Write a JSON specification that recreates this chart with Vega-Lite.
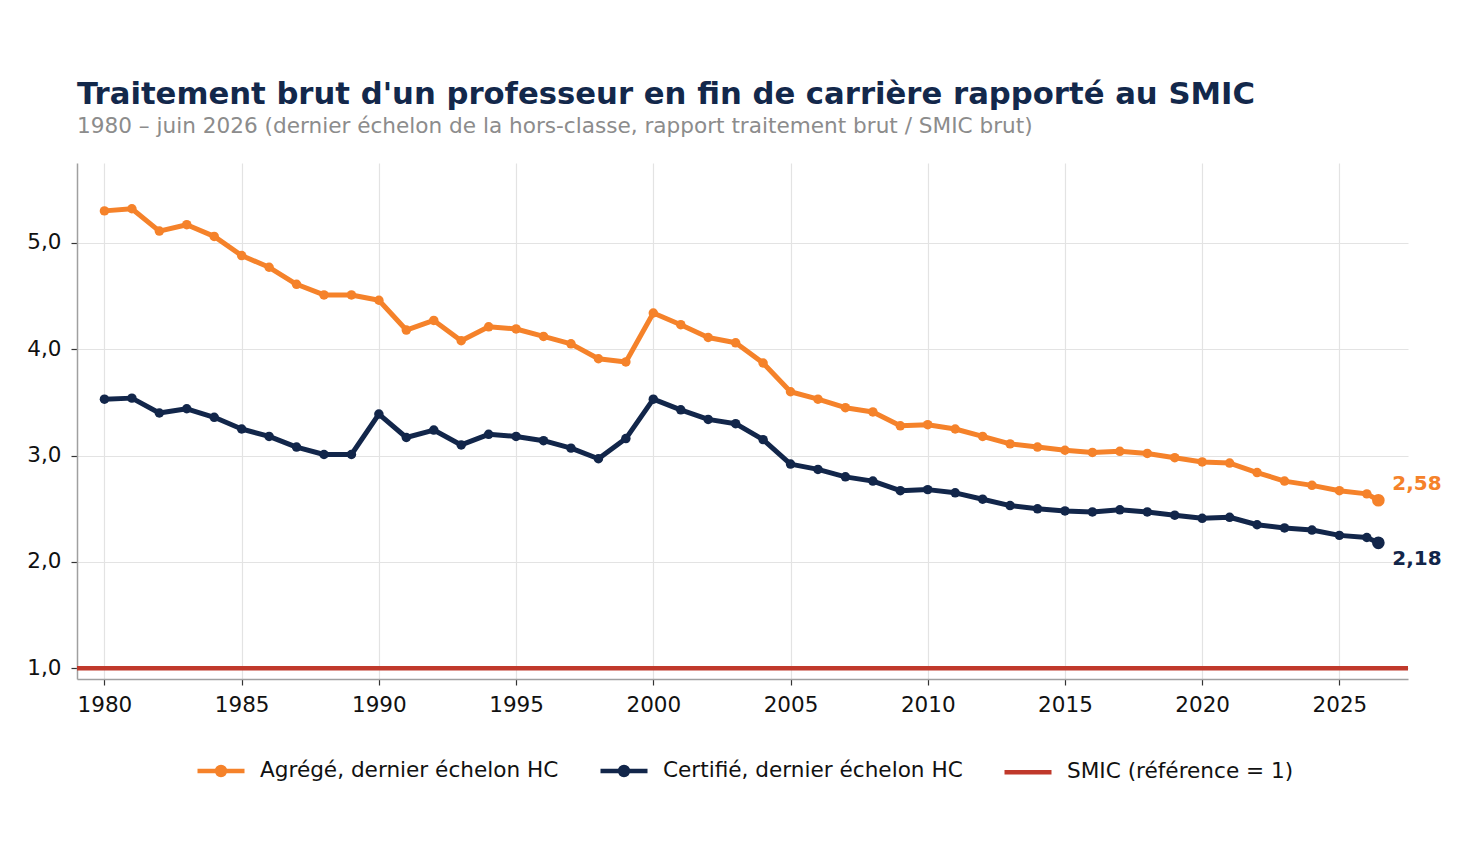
{
  "$schema": "https://vega.github.io/schema/vega-lite/v6.json",
  "width": 1331,
  "height": 516,
  "autosize": "none",
  "padding": {"left": 77, "top": 163, "right": 64, "bottom": 171},
  "background": "white",
  "title": {
    "text": "Traitement brut d'un professeur en fin de carrière rapporté au SMIC",
    "subtitle": "1980 – juin 2026 (dernier échelon de la hors-classe, rapport traitement brut / SMIC brut)",
    "anchor": "start",
    "frame": "group",
    "font": "DejaVu Sans",
    "fontSize": 30.7,
    "fontWeight": "bold",
    "color": "#13284b",
    "subtitleFont": "DejaVu Sans",
    "subtitleFontSize": 21.6,
    "subtitleColor": "#8c8c8c",
    "subtitlePadding": 6,
    "offset": 24
  },
  "datasets": {
    "series": [
      {"annee": 1980, "serie": "Agrégé, dernier échelon HC", "valeur": 5.30},
      {"annee": 1981, "serie": "Agrégé, dernier échelon HC", "valeur": 5.32},
      {"annee": 1982, "serie": "Agrégé, dernier échelon HC", "valeur": 5.11},
      {"annee": 1983, "serie": "Agrégé, dernier échelon HC", "valeur": 5.17},
      {"annee": 1984, "serie": "Agrégé, dernier échelon HC", "valeur": 5.06},
      {"annee": 1985, "serie": "Agrégé, dernier échelon HC", "valeur": 4.88},
      {"annee": 1986, "serie": "Agrégé, dernier échelon HC", "valeur": 4.77},
      {"annee": 1987, "serie": "Agrégé, dernier échelon HC", "valeur": 4.61},
      {"annee": 1988, "serie": "Agrégé, dernier échelon HC", "valeur": 4.51},
      {"annee": 1989, "serie": "Agrégé, dernier échelon HC", "valeur": 4.51},
      {"annee": 1990, "serie": "Agrégé, dernier échelon HC", "valeur": 4.46},
      {"annee": 1991, "serie": "Agrégé, dernier échelon HC", "valeur": 4.18},
      {"annee": 1992, "serie": "Agrégé, dernier échelon HC", "valeur": 4.27},
      {"annee": 1993, "serie": "Agrégé, dernier échelon HC", "valeur": 4.08},
      {"annee": 1994, "serie": "Agrégé, dernier échelon HC", "valeur": 4.21},
      {"annee": 1995, "serie": "Agrégé, dernier échelon HC", "valeur": 4.19},
      {"annee": 1996, "serie": "Agrégé, dernier échelon HC", "valeur": 4.12},
      {"annee": 1997, "serie": "Agrégé, dernier échelon HC", "valeur": 4.05},
      {"annee": 1998, "serie": "Agrégé, dernier échelon HC", "valeur": 3.91},
      {"annee": 1999, "serie": "Agrégé, dernier échelon HC", "valeur": 3.88},
      {"annee": 2000, "serie": "Agrégé, dernier échelon HC", "valeur": 4.34},
      {"annee": 2001, "serie": "Agrégé, dernier échelon HC", "valeur": 4.23},
      {"annee": 2002, "serie": "Agrégé, dernier échelon HC", "valeur": 4.11},
      {"annee": 2003, "serie": "Agrégé, dernier échelon HC", "valeur": 4.06},
      {"annee": 2004, "serie": "Agrégé, dernier échelon HC", "valeur": 3.87},
      {"annee": 2005, "serie": "Agrégé, dernier échelon HC", "valeur": 3.60},
      {"annee": 2006, "serie": "Agrégé, dernier échelon HC", "valeur": 3.53},
      {"annee": 2007, "serie": "Agrégé, dernier échelon HC", "valeur": 3.45},
      {"annee": 2008, "serie": "Agrégé, dernier échelon HC", "valeur": 3.41},
      {"annee": 2009, "serie": "Agrégé, dernier échelon HC", "valeur": 3.28},
      {"annee": 2010, "serie": "Agrégé, dernier échelon HC", "valeur": 3.29},
      {"annee": 2011, "serie": "Agrégé, dernier échelon HC", "valeur": 3.25},
      {"annee": 2012, "serie": "Agrégé, dernier échelon HC", "valeur": 3.18},
      {"annee": 2013, "serie": "Agrégé, dernier échelon HC", "valeur": 3.11},
      {"annee": 2014, "serie": "Agrégé, dernier échelon HC", "valeur": 3.08},
      {"annee": 2015, "serie": "Agrégé, dernier échelon HC", "valeur": 3.05},
      {"annee": 2016, "serie": "Agrégé, dernier échelon HC", "valeur": 3.03},
      {"annee": 2017, "serie": "Agrégé, dernier échelon HC", "valeur": 3.04},
      {"annee": 2018, "serie": "Agrégé, dernier échelon HC", "valeur": 3.02},
      {"annee": 2019, "serie": "Agrégé, dernier échelon HC", "valeur": 2.98},
      {"annee": 2020, "serie": "Agrégé, dernier échelon HC", "valeur": 2.94},
      {"annee": 2021, "serie": "Agrégé, dernier échelon HC", "valeur": 2.93},
      {"annee": 2022, "serie": "Agrégé, dernier échelon HC", "valeur": 2.84},
      {"annee": 2023, "serie": "Agrégé, dernier échelon HC", "valeur": 2.76},
      {"annee": 2024, "serie": "Agrégé, dernier échelon HC", "valeur": 2.72},
      {"annee": 2025, "serie": "Agrégé, dernier échelon HC", "valeur": 2.67},
      {"annee": 2026, "serie": "Agrégé, dernier échelon HC", "valeur": 2.64},
      {"annee": 2026.42, "serie": "Agrégé, dernier échelon HC", "valeur": 2.58},
      {"annee": 1980, "serie": "Certifié, dernier échelon HC", "valeur": 3.53},
      {"annee": 1981, "serie": "Certifié, dernier échelon HC", "valeur": 3.54},
      {"annee": 1982, "serie": "Certifié, dernier échelon HC", "valeur": 3.40},
      {"annee": 1983, "serie": "Certifié, dernier échelon HC", "valeur": 3.44},
      {"annee": 1984, "serie": "Certifié, dernier échelon HC", "valeur": 3.36},
      {"annee": 1985, "serie": "Certifié, dernier échelon HC", "valeur": 3.25},
      {"annee": 1986, "serie": "Certifié, dernier échelon HC", "valeur": 3.18},
      {"annee": 1987, "serie": "Certifié, dernier échelon HC", "valeur": 3.08},
      {"annee": 1988, "serie": "Certifié, dernier échelon HC", "valeur": 3.01},
      {"annee": 1989, "serie": "Certifié, dernier échelon HC", "valeur": 3.01},
      {"annee": 1990, "serie": "Certifié, dernier échelon HC", "valeur": 3.39},
      {"annee": 1991, "serie": "Certifié, dernier échelon HC", "valeur": 3.17},
      {"annee": 1992, "serie": "Certifié, dernier échelon HC", "valeur": 3.24},
      {"annee": 1993, "serie": "Certifié, dernier échelon HC", "valeur": 3.10},
      {"annee": 1994, "serie": "Certifié, dernier échelon HC", "valeur": 3.20},
      {"annee": 1995, "serie": "Certifié, dernier échelon HC", "valeur": 3.18},
      {"annee": 1996, "serie": "Certifié, dernier échelon HC", "valeur": 3.14},
      {"annee": 1997, "serie": "Certifié, dernier échelon HC", "valeur": 3.07},
      {"annee": 1998, "serie": "Certifié, dernier échelon HC", "valeur": 2.97},
      {"annee": 1999, "serie": "Certifié, dernier échelon HC", "valeur": 3.16},
      {"annee": 2000, "serie": "Certifié, dernier échelon HC", "valeur": 3.53},
      {"annee": 2001, "serie": "Certifié, dernier échelon HC", "valeur": 3.43},
      {"annee": 2002, "serie": "Certifié, dernier échelon HC", "valeur": 3.34},
      {"annee": 2003, "serie": "Certifié, dernier échelon HC", "valeur": 3.30},
      {"annee": 2004, "serie": "Certifié, dernier échelon HC", "valeur": 3.15},
      {"annee": 2005, "serie": "Certifié, dernier échelon HC", "valeur": 2.92},
      {"annee": 2006, "serie": "Certifié, dernier échelon HC", "valeur": 2.87},
      {"annee": 2007, "serie": "Certifié, dernier échelon HC", "valeur": 2.80},
      {"annee": 2008, "serie": "Certifié, dernier échelon HC", "valeur": 2.76},
      {"annee": 2009, "serie": "Certifié, dernier échelon HC", "valeur": 2.67},
      {"annee": 2010, "serie": "Certifié, dernier échelon HC", "valeur": 2.68},
      {"annee": 2011, "serie": "Certifié, dernier échelon HC", "valeur": 2.65},
      {"annee": 2012, "serie": "Certifié, dernier échelon HC", "valeur": 2.59},
      {"annee": 2013, "serie": "Certifié, dernier échelon HC", "valeur": 2.53},
      {"annee": 2014, "serie": "Certifié, dernier échelon HC", "valeur": 2.50},
      {"annee": 2015, "serie": "Certifié, dernier échelon HC", "valeur": 2.48},
      {"annee": 2016, "serie": "Certifié, dernier échelon HC", "valeur": 2.47},
      {"annee": 2017, "serie": "Certifié, dernier échelon HC", "valeur": 2.49},
      {"annee": 2018, "serie": "Certifié, dernier échelon HC", "valeur": 2.47},
      {"annee": 2019, "serie": "Certifié, dernier échelon HC", "valeur": 2.44},
      {"annee": 2020, "serie": "Certifié, dernier échelon HC", "valeur": 2.41},
      {"annee": 2021, "serie": "Certifié, dernier échelon HC", "valeur": 2.42},
      {"annee": 2022, "serie": "Certifié, dernier échelon HC", "valeur": 2.35},
      {"annee": 2023, "serie": "Certifié, dernier échelon HC", "valeur": 2.32},
      {"annee": 2024, "serie": "Certifié, dernier échelon HC", "valeur": 2.30},
      {"annee": 2025, "serie": "Certifié, dernier échelon HC", "valeur": 2.25},
      {"annee": 2026, "serie": "Certifié, dernier échelon HC", "valeur": 2.23},
      {"annee": 2026.42, "serie": "Certifié, dernier échelon HC", "valeur": 2.18}
    ],
    "smic": [
      {"serie": "SMIC (référence = 1)", "valeur": 1}
    ]
  },
  "data": {"name": "series"},
  "encoding": {
    "x": {
      "field": "annee",
      "type": "quantitative",
      "title": null,
      "scale": {"domain": [1979, 2027.5], "nice": false, "zero": false},
      "axis": {
        "values": [1980, 1985, 1990, 1995, 2000, 2005, 2010, 2015, 2020, 2025],
        "format": "d",
        "labelFlush": false,
        "labelPadding": 9
      }
    },
    "y": {
      "field": "valeur",
      "type": "quantitative",
      "title": null,
      "scale": {"domain": [0.9, 5.75], "nice": false, "zero": false},
      "axis": {"values": [1, 2, 3, 4, 5], "format": ".1f", "labelPadding": 10}
    },
    "color": {
      "field": "serie",
      "type": "nominal",
      "scale": {
        "domain": ["Agrégé, dernier échelon HC", "Certifié, dernier échelon HC", "SMIC (référence = 1)"],
        "range": ["#f5822a", "#12264a", "#c0392b"]
      },
      "legend": {
        "orient": "none",
        "direction": "horizontal",
        "legendX": 118,
        "legendY": 582,
        "title": null,
        "labelFont": "DejaVu Sans",
        "labelFontSize": 21.6,
        "labelColor": "#111111",
        "labelLimit": 0,
        "labelOffset": 13,
        "columnPadding": 32,
        "symbolSize": 2209,
        "symbolStrokeWidth": 4.5,
        "encode": {
          "symbols": {
            "update": {
              "shape": {"signal": "datum.value === 'SMIC (référence = 1)' ? 'M-1,0L1,0' : 'M-1,0L1,0M-0.17,0A0.17,0.17,0,1,0,0.17,0A0.17,0.17,0,1,0,-0.17,0Z'"},
              "fill": {"scale": "color", "field": "value"},
              "stroke": {"scale": "color", "field": "value"},
              "strokeWidth": {"value": 4.5},
              "opacity": {"value": 1}
            }
          }
        }
      }
    }
  },
  "layer": [
    {
      "data": {"name": "smic"},
      "mark": {"type": "rule", "strokeWidth": 4.5},
      "encoding": {
        "x": null
      }
    },
    {
      "mark": {"type": "line", "strokeWidth": 5, "strokeJoin": "round", "strokeCap": "round"}
    },
    {
      "mark": {"type": "point", "filled": true, "opacity": 1, "shape": "circle"},
      "encoding": {
        "size": {
          "condition": {"test": "datum.annee > 2026.2", "value": 160},
          "value": 90
        }
      }
    },
    {
      "transform": [{"filter": "datum.annee > 2026.2 && datum.serie === 'Agrégé, dernier échelon HC'"}],
      "mark": {"type": "text", "align": "left", "baseline": "middle", "dx": 14, "dy": -16, "font": "DejaVu Sans", "fontSize": 20, "fontWeight": "bold"},
      "encoding": {
        "text": {"field": "valeur", "type": "quantitative", "format": ".2f"}
      }
    },
    {
      "transform": [{"filter": "datum.annee > 2026.2 && datum.serie === 'Certifié, dernier échelon HC'"}],
      "mark": {"type": "text", "align": "left", "baseline": "middle", "dx": 14, "dy": 16, "font": "DejaVu Sans", "fontSize": 20, "fontWeight": "bold"},
      "encoding": {
        "text": {"field": "valeur", "type": "quantitative", "format": ".2f"}
      }
    }
  ],
  "config": {
    "locale": {
      "number": {"decimal": ",", "thousands": " ", "grouping": [3], "currency": ["", " €"]}
    },
    "view": {"stroke": null},
    "font": "DejaVu Sans",
    "axis": {
      "labelFont": "DejaVu Sans",
      "labelFontSize": 21.5,
      "labelColor": "#111111",
      "gridColor": "#e3e3e3",
      "gridWidth": 1.2,
      "domainColor": "#a0a0a0",
      "domainWidth": 1.5,
      "tickColor": "#333333",
      "tickSize": 6,
      "tickWidth": 1.2
    }
  }
}
